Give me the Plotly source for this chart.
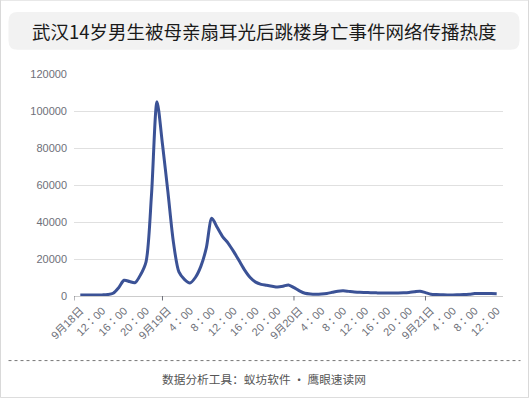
import plotly.graph_objects as go

# ---------------- data ----------------
days = ["9月18日", "9月19日", "9月20日", "9月21日"]
start_hour = 8
n_points = 77
categories = []
for i in range(n_points):
    t = start_hour + i
    d, h = divmod(t, 24)
    categories.append(f"{days[d]} {h}:00")

values = [
    500, 500, 500, 500, 600, 800, 1500, 4500, 8500, 7800,
    7200, 11500, 18500, 55000, 105000, 82000, 56000, 29000, 13000, 9000,
    7000, 10000, 16000, 26000, 42000, 37000, 32000, 28500, 24000, 19000,
    14000, 10000, 7500, 6300, 5800, 5300, 4900, 5300, 6000, 4500,
    2800, 1500, 1100, 1000, 1100, 1400, 2000, 2600, 2800, 2500,
    2200, 2000, 1900, 1800, 1700, 1600, 1600, 1600, 1600, 1700,
    1900, 2300, 2600, 1800, 1000, 800, 700, 600, 600, 700,
    800, 1000, 1300, 1400, 1400, 1300, 1200,
]

tick_idx = list(range(0, n_points, 4))
tick_vals = [categories[i] for i in tick_idx]
tick_text = ["9月18日", "12：00", "16：00", "20：00",
             "9月19日", "4：00", "8：00", "12：00", "16：00", "20：00",
             "9月20日", "4：00", "8：00", "12：00", "16：00", "20：00",
             "9月21日", "4：00", "8：00", "12：00"]

# small axis ticks (category index positions)
axis_tick_pos = [-1.15, 15, 39, 63]

y_ticks = [0, 20000, 40000, 60000, 80000, 100000, 120000]

title_text = "武汉14岁男生被母亲扇耳光后跳楼身亡事件网络传播热度"
footer_text = "数据分析工具：蚁坊软件 · 鹰眼速读网"

# ---------------- layout geometry ----------------
W, H = 529, 398
PL, PR, PT, PB = 74, 503, 74.3, 296   # plot area in pixels

def px(x):
    return (x - PL) / (PR - PL)

def py(y):
    return (PB - y) / (PB - PT)

CJK = "Noto Sans CJK SC, Noto Sans, sans-serif"
LAB = "Liberation Sans, Arial, Noto Sans CJK TC, sans-serif"

fig = go.Figure()
fig.add_trace(go.Scatter(
    x=categories, y=values, mode="lines",
    line=dict(color="#3b5296", width=3, shape="spline", smoothing=0.8),
    hoverinfo="x+y", showlegend=False,
))

# rounded title box
x0, x1, y0, y1, r = 8.5, 519.5, 12.5, 50, 9
def P(x, y):
    return f"{px(x)},{py(y)}"
path = (f"M {P(x0 + r, y0)} L {P(x1 - r, y0)} Q {P(x1, y0)} {P(x1, y0 + r)} "
        f"L {P(x1, y1 - r)} Q {P(x1, y1)} {P(x1 - r, y1)} "
        f"L {P(x0 + r, y1)} Q {P(x0, y1)} {P(x0, y1 - r)} "
        f"L {P(x0, y0 + r)} Q {P(x0, y0)} {P(x0 + r, y0)} Z")

shapes = [
    # outer border
    dict(type="rect", xref="paper", yref="paper",
         x0=px(0.5), x1=px(528.5), y0=py(0.5), y1=py(397.5),
         line=dict(color="#d9d9d9", width=1), fillcolor="rgba(0,0,0,0)", layer="below"),
    dict(type="path", xref="paper", yref="paper", path=path,
         fillcolor="#f2f2f2", line=dict(width=0), layer="below"),
    # dotted separator
    dict(type="line", xref="paper", yref="paper",
         x0=px(8.5), x1=px(520.5), y0=py(360.5), y1=py(360.5),
         line=dict(color="#777777", width=1, dash="dot")),
]
for tp in axis_tick_pos:
    shapes.append(dict(type="line", xref="x", yref="paper",
                       x0=tp, x1=tp, y0=0, y1=py(300.5),
                       line=dict(color="#6e7079", width=1)))

annotations = [
    dict(text=title_text, xref="paper", yref="paper", x=px(264), y=py(31),
         xanchor="center", yanchor="middle", showarrow=False,
         font=dict(family=CJK, size=18.5, color="#1a1a1a")),
    dict(text=footer_text, xref="paper", yref="paper", x=px(264), y=py(378),
         xanchor="center", yanchor="middle", showarrow=False,
         font=dict(family=CJK, size=11.7, color="#555555")),
]

fig.update_layout(
    width=W, height=H,
    margin=dict(l=PL, r=W - PR, t=PT, b=H - PB, pad=0),
    paper_bgcolor="white", plot_bgcolor="white",
    shapes=shapes, annotations=annotations,
    xaxis=dict(
        type="category", range=[-1.15, n_points - 1 + 1.15],
        tickmode="array", tickvals=tick_vals, ticktext=tick_text,
        tickangle=-45, tickfont=dict(family=LAB, size=11, color="#6e7079"),
        showgrid=False, showline=True, linecolor="#cccccc", linewidth=1,
        ticks="", zeroline=False, fixedrange=True, automargin=False,
        ticklabelstandoff=3,
    ),
    yaxis=dict(
        range=[0, 120000], tickmode="array", tickvals=y_ticks,
        ticktext=[str(v) for v in y_ticks],
        tickfont=dict(family=LAB, size=11, color="#6e7079"),
        showgrid=True, gridcolor="#e0e0e0", gridwidth=1,
        zeroline=False, showline=False, ticks="", ticklabelstandoff=6,
        fixedrange=True, automargin=False,
    ),
)

fig.write_html("out.html",
               config={"displayModeBar": False},
               post_script="document.body.style.margin='0px';document.body.style.padding='0px';")
